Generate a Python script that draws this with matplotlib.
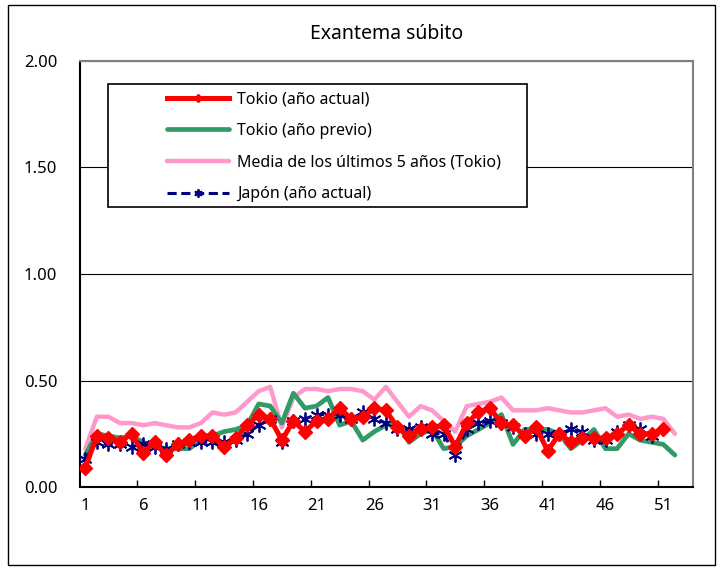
import matplotlib.pyplot as plt
import numpy as np
from matplotlib.patches import Rectangle

plt.rcParams['font.family'] = ['Noto Sans', 'DejaVu Sans']

title = 'Exantema súbito'
labels = ['Tokio (año actual)', 'Tokio (año previo)',
          'Media de los últimos 5 años (Tokio)', 'Japón (año actual)']

tokyo_now = [0.09, 0.24, 0.23, 0.21, 0.25, 0.16, 0.21, 0.15, 0.20, 0.22,
             0.24, 0.24, 0.19, 0.23, 0.29, 0.34, 0.32, 0.22, 0.31, 0.26,
             0.31, 0.32, 0.37, 0.32, 0.33, 0.37, 0.36, 0.28, 0.24, 0.27,
             0.28, 0.29, 0.19, 0.30, 0.35, 0.37, 0.30, 0.29, 0.24, 0.28,
             0.17, 0.25, 0.21, 0.23, 0.23, 0.23, 0.25, 0.29, 0.25, 0.25,
             0.27]
tokyo_prev = [0.15, 0.25, 0.24, 0.23, 0.24, 0.21, 0.19, 0.18, 0.18, 0.18,
              0.22, 0.24, 0.26, 0.27, 0.29, 0.39, 0.38, 0.30, 0.44, 0.37,
              0.38, 0.42, 0.29, 0.31, 0.22, 0.26, 0.29, 0.30, 0.21, 0.25,
              0.27, 0.18, 0.19, 0.24, 0.27, 0.30, 0.34, 0.20, 0.27, 0.27,
              0.27, 0.25, 0.18, 0.22, 0.27, 0.18, 0.18, 0.25, 0.22, 0.21,
              0.20, 0.15]
tokyo_avg5 = [0.18, 0.33, 0.33, 0.30, 0.30, 0.29, 0.30, 0.29, 0.28, 0.28,
              0.30, 0.35, 0.34, 0.35, 0.40, 0.45, 0.47, 0.28, 0.42, 0.46,
              0.46, 0.45, 0.46, 0.46, 0.45, 0.41, 0.47, 0.40, 0.33, 0.38,
              0.36, 0.31, 0.26, 0.38, 0.39, 0.40, 0.42, 0.36, 0.36, 0.36,
              0.37, 0.36, 0.35, 0.35, 0.36, 0.37, 0.33, 0.34, 0.32, 0.33,
              0.32, 0.25]
japan_now = [0.13, 0.21, 0.20, 0.20, 0.19, 0.20, 0.19, 0.18, 0.20, 0.21,
             0.21, 0.21, 0.21, 0.22, 0.25, 0.29, 0.32, 0.21, 0.31, 0.32,
             0.34, 0.34, 0.34, 0.32, 0.35, 0.32, 0.30, 0.27, 0.27, 0.28,
             0.25, 0.25, 0.15, 0.27, 0.30, 0.31, 0.30, 0.28, 0.25, 0.25,
             0.25, 0.25, 0.27, 0.26, 0.22, 0.22, 0.26, 0.29, 0.27, 0.24]

yticks = [0.0, 0.5, 1.0, 1.5, 2.0]
xlabels = [1, 6, 11, 16, 21, 26, 31, 36, 41, 46, 51]

fig = plt.figure(figsize=(7.23, 5.69), dpi=100)
ax = fig.add_axes([0.110, 0.1441, 0.849, 0.7487])

w_now = np.arange(1, len(tokyo_now) + 1)
w_prev = np.arange(1, len(tokyo_prev) + 1)
w_avg = np.arange(1, len(tokyo_avg5) + 1)
w_jp = np.arange(1, len(japan_now) + 1)

l_avg, = ax.plot(w_avg, tokyo_avg5, color='#FF99CC', lw=3.2, zorder=3,
                 solid_capstyle='round', label=labels[2])
l_prev, = ax.plot(w_prev, tokyo_prev, color='#339966', lw=3.4, zorder=4,
                  solid_capstyle='round', label=labels[1])
l_jp, = ax.plot(w_jp, japan_now, color='#000080', lw=2.2, ls=(0, (3, 1.5)),
                marker=(6, 2, 0), ms=10, mew=1.3, zorder=5, label=labels[3])
l_now, = ax.plot(w_now, tokyo_now, color='#FF0000', lw=3.6, marker='D', ms=7.5,
                 zorder=6, label=labels[0])

ax.set_xlim(0.5, 53.6)
ax.set_ylim(0, 2.0)
ax.set_yticks(yticks)
ax.set_yticklabels(['%.2f' % v for v in yticks], fontsize=12)
ax.tick_params(axis='y', length=0, pad=16)
ax.set_xticks(np.arange(5.5, 51, 5))
ax.set_xticklabels([])
ax.tick_params(axis='x', length=5, width=1, direction='in')
ax.set_xticks(xlabels, minor=True)
ax.set_xticklabels([str(v) for v in xlabels], minor=True, fontsize=12)
ax.tick_params(axis='x', which='minor', length=0, pad=8)
ax.grid(axis='y', color='black', lw=0.8)
ax.set_axisbelow(True)
for s in ['top', 'right']:
    ax.spines[s].set_color('#808080')
    ax.spines[s].set_linewidth(1.5)
for s in ['left', 'bottom']:
    ax.spines[s].set_linewidth(1.5)

ax.set_title(title, fontsize=14, pad=16)

# legend frame drawn separately
ax.add_patch(Rectangle((0.0464, 0.658), 0.683, 0.288, transform=ax.transAxes,
                       facecolor='white', edgecolor='black', lw=1.2, zorder=7))
leg = ax.legend([l_now, l_prev, l_avg, l_jp], labels, loc='upper left',
                bbox_to_anchor=(0.135, 0.94), frameon=False, fontsize=11.5,
                handlelength=3.9, handletextpad=0.5, labelspacing=0.98,
                markerscale=0.6, borderaxespad=0, borderpad=0.3)
leg.set_zorder(8)

fig.add_artist(Rectangle((8 / 723, 4 / 569), 707 / 723, 560 / 569,
                         transform=fig.transFigure, fill=False,
                         edgecolor='black', lw=1))

fig.savefig('out.png', dpi=100)
